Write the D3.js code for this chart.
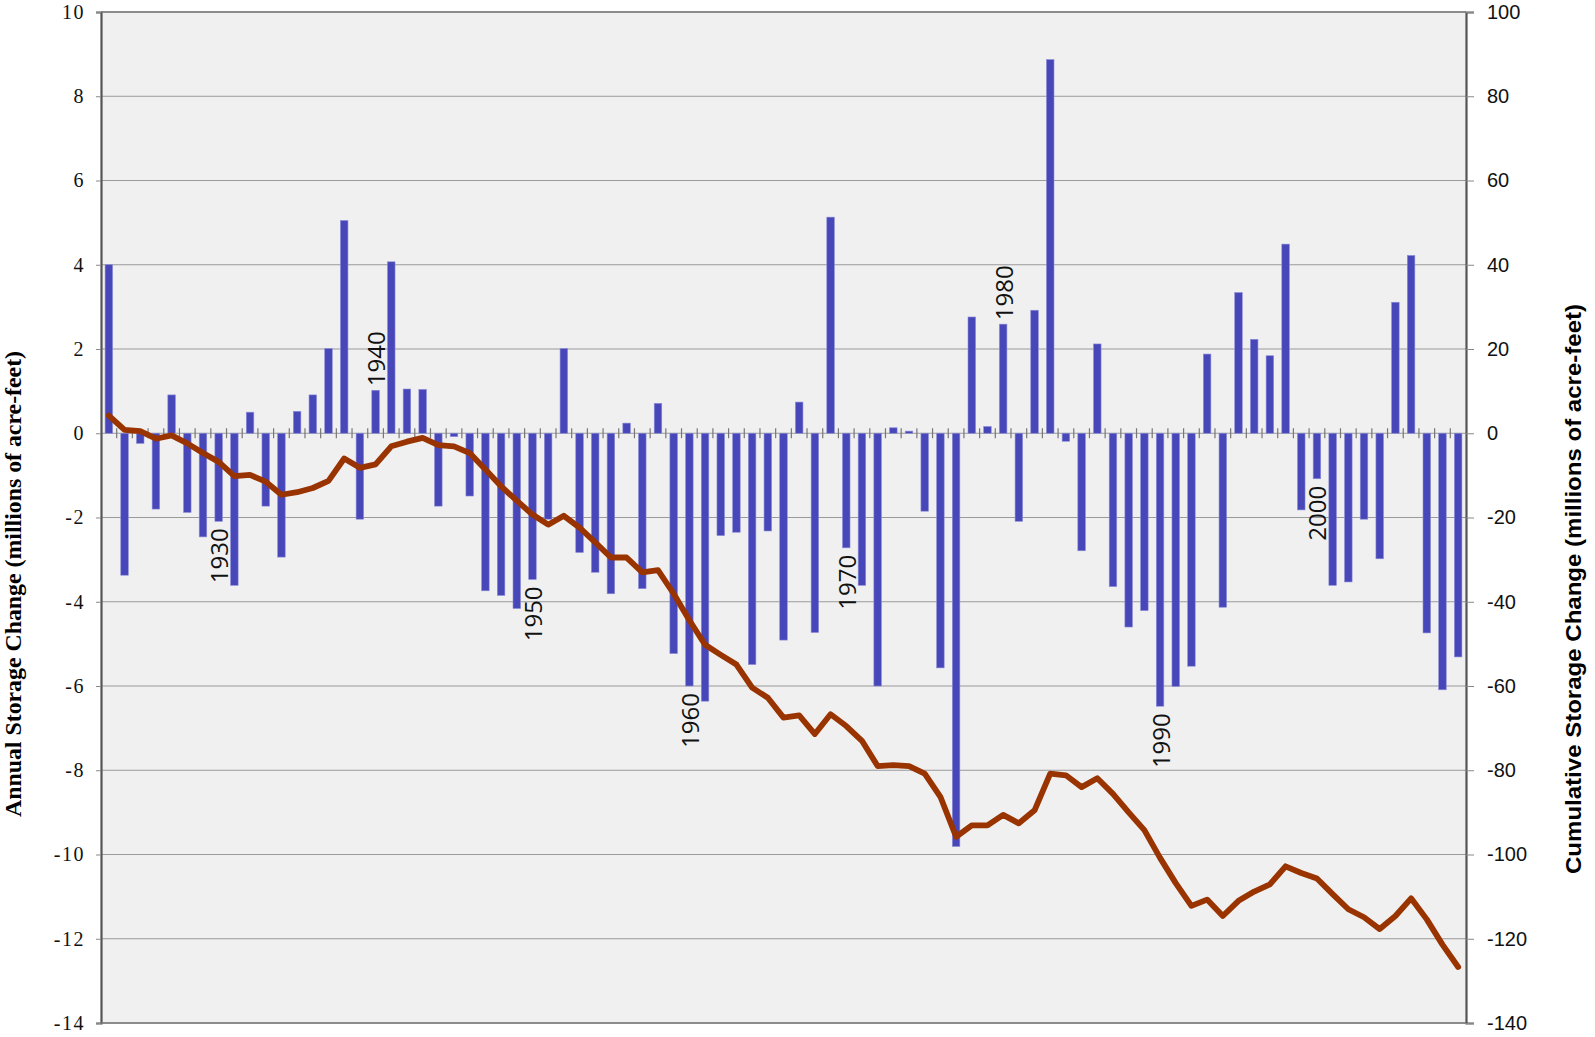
<!DOCTYPE html>
<html>
<head>
<meta charset="utf-8">
<script src="https://cdn.jsdelivr.net/npm/d3@7.9.0/dist/d3.min.js"></script>
<style>
  body { margin: 0; background: #fff; }
  svg { display: block; }
</style>
</head>
<body>
<svg id="chart" width="1595" height="1037"></svg>
<script>
// water years shown on the chart
const years = d3.range(1923, 2010);

// annual storage change, millions of acre-feet (left axis)
const annualChange = [
  4.0, -3.37, -0.24, -1.8, 0.91, -1.88, -2.46, -2.09, -3.61, 0.5,
  -1.73, -2.94, 0.52, 0.91, 2.01, 5.05, -2.04, 1.02, 4.07, 1.05,
  1.04, -1.73, -0.08, -1.49, -3.74, -3.85, -4.16, -3.47, -2.04, 2.01,
  -2.83, -3.3, -3.81, 0.24, -3.69, 0.71, -5.23, -6.0, -6.36, -2.43,
  -2.35, -5.49, -2.32, -4.91, 0.74, -4.73, 5.13, -2.72, -3.61, -6.0,
  0.13, 0.05, -1.85, -5.57, -9.81, 2.76, 0.16, 2.59, -2.09, 2.92,
  8.87, -0.19, -2.79, 2.12, -3.64, -4.6, -4.21, -6.48, -6.01, -5.53,
  1.88, -4.13, 3.34, 2.23, 1.84, 4.49, -1.82, -1.08, -3.61, -3.53,
  -2.04, -2.98, 3.11, 4.22, -4.74, -6.09, -5.31
];

// cumulative storage change, millions of acre-feet (right axis)
const cumulativeChange = [
  4.2, 0.8, 0.5, -1.3, -0.5, -2.4, -4.7, -6.8, -10.2, -9.9,
  -11.5, -14.6, -14.0, -13.0, -11.3, -6.0, -8.2, -7.4, -3.1, -2.0,
  -1.1, -2.8, -3.1, -4.7, -8.6, -12.6, -16.0, -19.3, -21.7, -19.6,
  -22.4, -25.9, -29.5, -29.5, -33.0, -32.5, -38.1, -44.4, -50.2, -52.6,
  -54.9, -60.4, -62.8, -67.5, -67.0, -71.4, -66.7, -69.5, -73.0, -79.0,
  -78.8, -79.0, -80.8, -86.3, -95.8, -93.1, -93.1, -90.6, -92.6, -89.5,
  -80.8, -81.2, -84.0, -81.9, -85.6, -90.0, -94.2, -100.8, -106.8, -112.2,
  -110.7, -114.6, -111.0, -108.8, -107.1, -102.8, -104.4, -105.7, -109.4, -113.0,
  -114.9, -117.7, -114.6, -110.4, -115.4, -121.4, -126.7
];

const labelYears = [1930, 1940, 1950, 1960, 1970, 1980, 1990, 2000];
const leftTicks = d3.range(-14, 11, 2);
const rightTicks = d3.range(-140, 101, 20);

const box = { left: 101, right: 1466, top: 12, bottom: 1023 };
const svg = d3.select('#chart');

const x = d3.scaleBand().domain(years).range([box.left, box.right]).padding(0);
const yL = d3.scaleLinear().domain([-14, 10]).range([box.bottom, box.top]);
const yR = d3.scaleLinear().domain([-140, 100]).range([box.bottom, box.top]);

// plot background
svg.append('rect')
  .attr('x', box.left).attr('y', box.top)
  .attr('width', box.right - box.left).attr('height', box.bottom - box.top)
  .attr('fill', '#f0f0f0');

// horizontal grid
svg.append('g').selectAll('line')
  .data(leftTicks)
  .join('line')
  .attr('x1', box.left).attr('x2', box.right)
  .attr('y1', d => yL(d)).attr('y2', d => yL(d))
  .attr('stroke', '#9a9a9a').attr('stroke-width', 1.2);

// left axis
const gL = svg.append('g')
  .attr('transform', `translate(${box.left},0)`)
  .call(d3.axisLeft(yL).tickValues(leftTicks).tickSize(5).tickPadding(11).tickFormat(d => String(d)));
gL.select('.domain').attr('stroke', '#555').attr('stroke-width', 2.2);
gL.selectAll('.tick line').attr('stroke', '#888');
gL.selectAll('.tick text')
  .attr('font-family', '"Liberation Serif", "Times New Roman", serif')
  .attr('font-size', 20).attr('letter-spacing', 1.5).attr('fill', '#111');

// right axis
const gR = svg.append('g')
  .attr('transform', `translate(${box.right},0)`)
  .call(d3.axisRight(yR).tickValues(rightTicks).tickSize(8).tickPadding(13).tickFormat(d => String(d)));
gR.select('.domain').attr('stroke', '#555').attr('stroke-width', 2.2);
gR.selectAll('.tick line').attr('stroke', '#888');
gR.selectAll('.tick text')
  .attr('font-family', '"Liberation Sans", Arial, sans-serif')
  .attr('font-size', 20).attr('fill', '#111');

// top and bottom frame
svg.append('line')
  .attr('x1', box.left).attr('x2', box.right).attr('y1', box.top).attr('y2', box.top)
  .attr('stroke', '#777').attr('stroke-width', 1.5);
svg.append('line')
  .attr('x1', box.left).attr('x2', box.right).attr('y1', box.bottom).attr('y2', box.bottom)
  .attr('stroke', '#777').attr('stroke-width', 1.5);

// category ticks on the zero line
svg.append('g').selectAll('line')
  .data(years.slice(1))
  .join('line')
  .attr('x1', d => x(d)).attr('x2', d => x(d))
  .attr('y1', yL(0) - 5).attr('y2', yL(0) + 5)
  .attr('stroke', '#777').attr('stroke-width', 1.2);

// bars
const barW = x.bandwidth() * 0.48;
svg.append('g').selectAll('rect')
  .data(years)
  .join('rect')
  .attr('x', (d) => x(d) + (x.bandwidth() - barW) / 2)
  .attr('y', (d, i) => yL(Math.max(0, annualChange[i])))
  .attr('width', barW)
  .attr('height', (d, i) => Math.abs(yL(annualChange[i]) - yL(0)))
  .attr('fill', '#4747b9')
  .attr('stroke', '#8c8cd8').attr('stroke-width', 0.6);

// decade labels next to bar ends
svg.append('g').selectAll('text')
  .data(labelYears)
  .join('text')
  .attr('transform', d => {
    const i = years.indexOf(d);
    const v = annualChange[i];
    const cx = x(d) + x.bandwidth() / 2;
    const cy = v >= 0 ? yL(v) - 4 : yL(v) + 7;
    return `translate(${cx},${cy}) rotate(-90)`;
  })
  .attr('text-anchor', d => annualChange[years.indexOf(d)] >= 0 ? 'start' : 'end')
  .attr('dominant-baseline', 'central')
  .attr('font-family', '"Open Sans", sans-serif')
  .attr('font-size', 24)
  .attr('fill', '#111')
  .text(d => d);

// cumulative line
const line = d3.line()
  .x((d, i) => x(years[i]) + x.bandwidth() / 2)
  .y(d => yR(d));
svg.append('path')
  .datum(cumulativeChange)
  .attr('d', line)
  .attr('fill', 'none')
  .attr('stroke', '#993300')
  .attr('stroke-width', 5.8)
  .attr('stroke-linejoin', 'round')
  .attr('stroke-linecap', 'round');

// axis titles
svg.append('text')
  .attr('transform', 'translate(21,584) rotate(-90)')
  .attr('text-anchor', 'middle')
  .attr('font-family', '"Liberation Serif", "Times New Roman", serif')
  .attr('font-weight', 'bold')
  .attr('font-size', 23)
  .attr('textLength', 466)
  .attr('lengthAdjust', 'spacingAndGlyphs')
  .text('Annual Storage Change (millions of acre-feet)');

svg.append('text')
  .attr('transform', 'translate(1581,589) rotate(-90)')
  .attr('text-anchor', 'middle')
  .attr('font-family', '"Liberation Sans", Arial, sans-serif')
  .attr('font-weight', 'bold')
  .attr('font-size', 22)
  .attr('textLength', 570)
  .attr('lengthAdjust', 'spacingAndGlyphs')
  .text('Cumulative Storage Change (millions of acre-feet)');
</script>
</body>
</html>
